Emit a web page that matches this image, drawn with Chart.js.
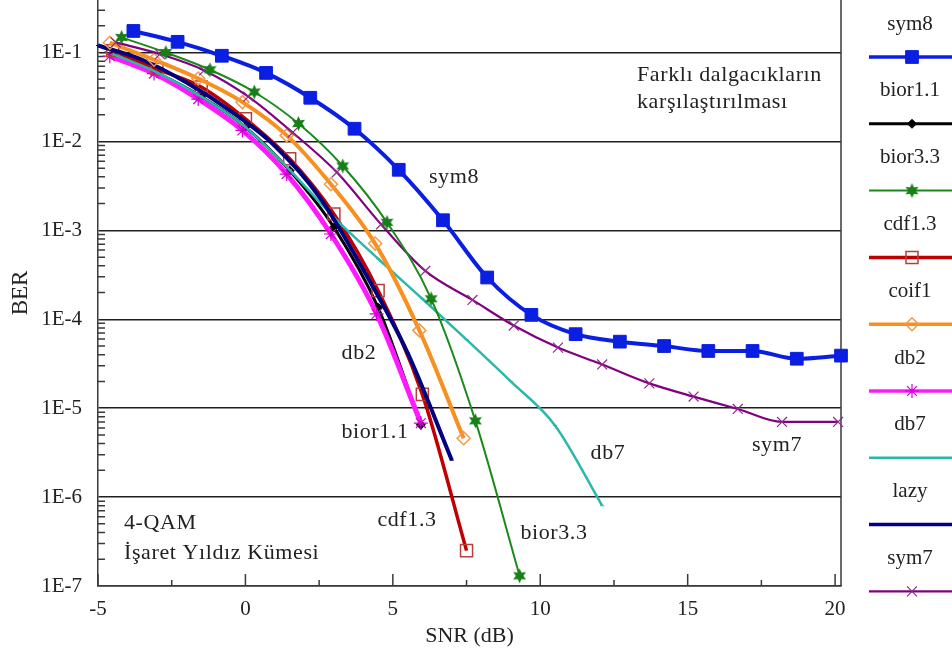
<!DOCTYPE html>
<html>
<head>
<meta charset="utf-8">
<script src="https://cdn.jsdelivr.net/npm/chart.js@4.4.1/dist/chart.umd.min.js"></script>
<style>
  html, body { margin: 0; padding: 0; background: #fff; }
  #wrap { width: 952px; height: 662px; position: relative; }
</style>
</head>
<body>
<div id="wrap"><canvas id="chart"></canvas></div>
<script>
// BER vs SNR for different wavelets (4-QAM)
const seriesNames = ['sym8', 'bior1.1', 'bior3.3', 'cdf1.3', 'coif1', 'db2', 'db7', 'lazy', 'sym7'];

const sym8X = [-3.8, -2.3, -0.8, 0.7, 2.2, 3.7, 5.2, 6.7, 8.2, 9.7, 11.2, 12.7, 14.2, 15.7, 17.2, 18.7, 20.2];
const sym8Y = [0.175, 0.132, 0.092, 0.059, 0.031, 0.0139, 0.0048, 0.0013, 2.95e-4, 1.12e-4, 6.8e-5, 5.6e-5, 5.0e-5, 4.4e-5, 4.4e-5, 3.6e-5, 3.9e-5];

const bior11X = [-4.5, -3.0, -1.5, 0, 1.5, 3.0, 4.5, 5.95];
const bior11Y = [0.095, 0.059, 0.032, 0.0145, 0.0047, 0.00108, 1.35e-4, 6.5e-6];

const bior33X = [-4.2, -2.7, -1.2, 0.3, 1.8, 3.3, 4.8, 6.3, 7.8, 9.3];
const bior33Y = [0.148, 0.10, 0.064, 0.036, 0.0159, 0.0053, 0.00123, 1.7e-4, 7.2e-6, 1.3e-7];

const cdf13X = [-4.5, -3.0, -1.5, 0, 1.5, 3.0, 4.5, 6.0, 7.5];
const cdf13Y = [0.105, 0.065, 0.041, 0.018, 0.0064, 0.00153, 2.1e-4, 1.43e-5, 2.5e-7];

const coif1X = [-4.6, -3.1, -1.6, -0.1, 1.4, 2.9, 4.4, 5.9, 7.4];
const coif1Y = [0.129, 0.083, 0.051, 0.0277, 0.0117, 0.0033, 7.1e-4, 7.5e-5, 4.6e-6];

const db2X = [-4.6, -3.1, -1.6, -0.1, 1.4, 2.9, 4.45, 5.95];
const db2Y = [0.091, 0.058, 0.030, 0.0133, 0.0043, 9.1e-4, 1.15e-4, 6.8e-6];

const db7X = [-4.5, -3.0, -1.5, 0, 1.5, 3.0, 4.5, 6.0, 7.5, 9.0, 10.5, 12.1];
const db7Y = [0.096, 0.060, 0.032, 0.0145, 0.0048, 0.0014, 4.8e-4, 1.7e-4, 5.9e-5, 2.0e-5, 6.4e-6, 8e-7];

const lazyX = [-5.0, -3.5, -2.0, -0.5, 1.0, 2.5, 4.0, 5.5, 7.0];
const lazyY = [0.12, 0.083, 0.046, 0.022, 0.0089, 0.0024, 3.6e-4, 4.2e-5, 2.6e-6];

const sym7X = [-4.4, -2.9, -1.4, 0.1, 1.6, 3.1, 4.6, 6.1, 7.7, 9.1, 10.6, 12.1, 13.7, 15.2, 16.7, 18.2, 20.1];
const sym7Y = [0.13, 0.096, 0.063, 0.032, 0.0126, 0.0045, 0.00117, 3.5e-4, 1.65e-4, 8.5e-5, 4.8e-5, 3.1e-5, 1.9e-5, 1.35e-5, 9.8e-6, 7e-6, 7e-6];

const xTickValues = [-5, 0, 5, 10, 15, 20];
const yTickValues = [1e-7, 1e-6, 1e-5, 1e-4, 1e-3, 1e-2, 1e-1];

// text placed inside the plot
const notes = [
  { text: 'Farklı dalgacıkların', x: 637, y: 75, align: 'left' },
  { text: 'karşılaştırılması', x: 637, y: 102, align: 'left' },
  { text: 'sym8', x: 454, y: 177, align: 'center' },
  { text: 'db2', x: 359, y: 353, align: 'center' },
  { text: 'bior1.1', x: 375, y: 432, align: 'center' },
  { text: 'db7', x: 608, y: 453, align: 'center' },
  { text: 'sym7', x: 777, y: 445, align: 'center' },
  { text: 'cdf1.3', x: 407, y: 520, align: 'center' },
  { text: 'bior3.3', x: 554, y: 533, align: 'center' },
  { text: '4-QAM', x: 124, y: 523, align: 'left' },
  { text: 'İşaret Yıldız Kümesi', x: 124, y: 553, align: 'left' }
];

const FONT = '"Liberation Serif", "Times New Roman", serif';
const TEXT = '#222';

function pts(xs, ys) {
  return xs.map((x, i) => ({ x: x, y: ys[i] }));
}

// filled six-pointed star used by bior3.3
function makeStar(color, r) {
  const c = document.createElement('canvas');
  const s = Math.ceil(r * 2 + 2);
  c.width = c.height = s;
  const g = c.getContext('2d');
  g.fillStyle = color;
  g.beginPath();
  for (let k = 0; k < 12; k++) {
    const rr = k % 2 ? r * 0.5 : r;
    const a = -Math.PI / 2 + k * Math.PI / 6;
    g.lineTo(s / 2 + rr * Math.cos(a), s / 2 + rr * Math.sin(a));
  }
  g.closePath();
  g.fill();
  return c;
}

function series(label, data, color, width, style, radius, fill, border, pbw, order) {
  return {
    label: label,
    data: data,
    borderColor: color,
    borderWidth: width,
    pointStyle: style,
    pointRadius: radius,
    pointBackgroundColor: fill,
    pointBorderColor: border,
    pointBorderWidth: pbw,
    cubicInterpolationMode: 'monotone',
    clip: false,
    fill: false,
    order: order
  };
}

// lower order is drawn on top
const datasets = [
  series(seriesNames[0], pts(sym8X, sym8Y), '#0b1fe3', 4, 'rect', 9, '#0b1fe3', '#0b1fe3', 1, 0),
  series(seriesNames[1], pts(bior11X, bior11Y), '#000000', 3, 'rectRot', 4.5, '#000000', '#000000', 1, 9),
  series(seriesNames[2], pts(bior33X, bior33Y), '#1b8a1b', 2, makeStar('#167f16', 7.5), 7, '#167f16', '#167f16', 1, 1),
  series(seriesNames[3], pts(cdf13X, cdf13Y), '#c00000', 3.5, 'rect', 8.5, 'rgba(0,0,0,0)', '#b8403a', 1.5, 6),
  series(seriesNames[4], pts(coif1X, coif1Y), '#f7901e', 4, 'rectRot', 6.5, 'rgba(0,0,0,0)', '#f2994a', 1.5, 3),
  series(seriesNames[5], pts(db2X, db2Y), '#ff19ff', 5, 'star', 7, '#ff19ff', '#d000d0', 1.2, 7),
  series(seriesNames[6], pts(db7X, db7Y), '#2ab8aa', 2.5, 'line', 2, '#2ab8aa', '#2ab8aa', 1, 5),
  series(seriesNames[7], pts(lazyX, lazyY), '#000080', 4, 'line', 2, '#000080', '#000080', 1, 4),
  series(seriesNames[8], pts(sym7X, sym7Y), '#800080', 2.2, 'crossRot', 7, '#800080', '#8e2a8e', 1.2, 2)
];

const decorations = {
  id: 'decorations',
  beforeDatasetsDraw(chart) {
    const { ctx, chartArea: a, scales: { x, y } } = chart;
    ctx.save();
    ctx.strokeStyle = '#3a3a3a';
    ctx.lineWidth = 1.5;
    ctx.beginPath();
    // right frame
    ctx.moveTo(a.right, a.top);
    ctx.lineTo(a.right, a.bottom);
    // minor log ticks, inside the left axis
    for (let e = -7; e < 0; e++) {
      for (let m = 2; m <= 9; m++) {
        const v = m * Math.pow(10, e);
        if (v > y.max) continue;
        const py = y.getPixelForValue(v);
        ctx.moveTo(a.left, py);
        ctx.lineTo(a.left + 7, py);
      }
    }
    // x ticks pointing up
    for (let v = -5; v <= 20; v += 2.5) {
      const px = x.getPixelForValue(v);
      const len = v % 5 === 0 ? 12 : 6;
      ctx.moveTo(px, a.bottom);
      ctx.lineTo(px, a.bottom - len);
    }
    ctx.stroke();
    ctx.restore();
  },
  afterDraw(chart) {
    const { ctx } = chart;
    ctx.save();
    ctx.fillStyle = TEXT;
    ctx.textBaseline = 'middle';
    ctx.font = '22px ' + FONT;
    ctx.letterSpacing = '0.6px';
    notes.forEach(n => {
      ctx.textAlign = n.align;
      ctx.fillText(n.text, n.x, n.y);
    });

    // legend: name above a short line sample
    ctx.font = '21px ' + FONT;
    ctx.letterSpacing = '0px';
    ctx.textAlign = 'center';
    chart.data.datasets.forEach((ds, i) => {
      const ty = 24 + i * 66.8;
      const ly = ty + 33;
      ctx.fillStyle = TEXT;
      ctx.fillText(ds.label, 910, ty);
      ctx.strokeStyle = ds.borderColor;
      ctx.lineWidth = Math.min(ds.borderWidth, 3.5);
      ctx.beginPath();
      ctx.moveTo(869, ly);
      ctx.lineTo(952, ly);
      ctx.stroke();
      ctx.fillStyle = ds.pointBackgroundColor;
      ctx.strokeStyle = ds.pointBorderColor;
      ctx.lineWidth = ds.pointBorderWidth;
      Chart.helpers.drawPoint(ctx, {
        pointStyle: ds.pointStyle,
        radius: ds.pointRadius,
        rotation: 0,
        borderWidth: ds.pointBorderWidth
      }, 912, ly);
    });
    ctx.restore();
  }
};

Chart.defaults.font.family = FONT;
Chart.defaults.font.size = 21;
Chart.defaults.color = TEXT;

new Chart(document.getElementById('chart'), {
  type: 'line',
  data: { datasets: datasets },
  options: {
    responsive: true,
    maintainAspectRatio: false,
    animation: false,
    layout: { autoPadding: false, padding: { left: 0, right: 111, top: 0, bottom: 0 } },
    plugins: {
      legend: { display: false },
      tooltip: { enabled: false }
    },
    scales: {
      x: {
        type: 'linear',
        min: -5,
        max: 20.2,
        afterBuildTicks: scale => {
          scale.ticks = xTickValues.map(v => ({ value: v }));
        },
        afterFit: scale => {
          scale.height = 76;
          scale.paddingLeft = 0;
          scale.paddingRight = 0;
        },
        ticks: { padding: 11, autoSkip: false, maxRotation: 0 },
        grid: { display: false, drawTicks: false },
        border: { display: true, color: '#3a3a3a', width: 1.5 },
        title: { display: true, text: 'SNR (dB)', font: { size: 22 }, padding: { top: 0, bottom: 13 } }
      },
      y: {
        type: 'logarithmic',
        min: 1e-7,
        max: 0.39,
        afterBuildTicks: scale => {
          scale.ticks = yTickValues.map(v => ({ value: v, major: true }));
        },
        afterFit: scale => {
          scale.width = 98;
          scale.paddingTop = 0;
          scale.paddingBottom = 0;
        },
        ticks: {
          padding: 16,
          autoSkip: false,
          callback: v => '1E' + Math.round(Math.log10(v))
        },
        grid: { color: '#1f1f1f', lineWidth: 1.5, drawTicks: false },
        border: { display: true, color: '#3a3a3a', width: 1.5 },
        title: { display: true, text: 'BER', font: { size: 23 }, padding: { top: 7, bottom: 0 } }
      }
    }
  },
  plugins: [decorations]
});
</script>
</body>
</html>
